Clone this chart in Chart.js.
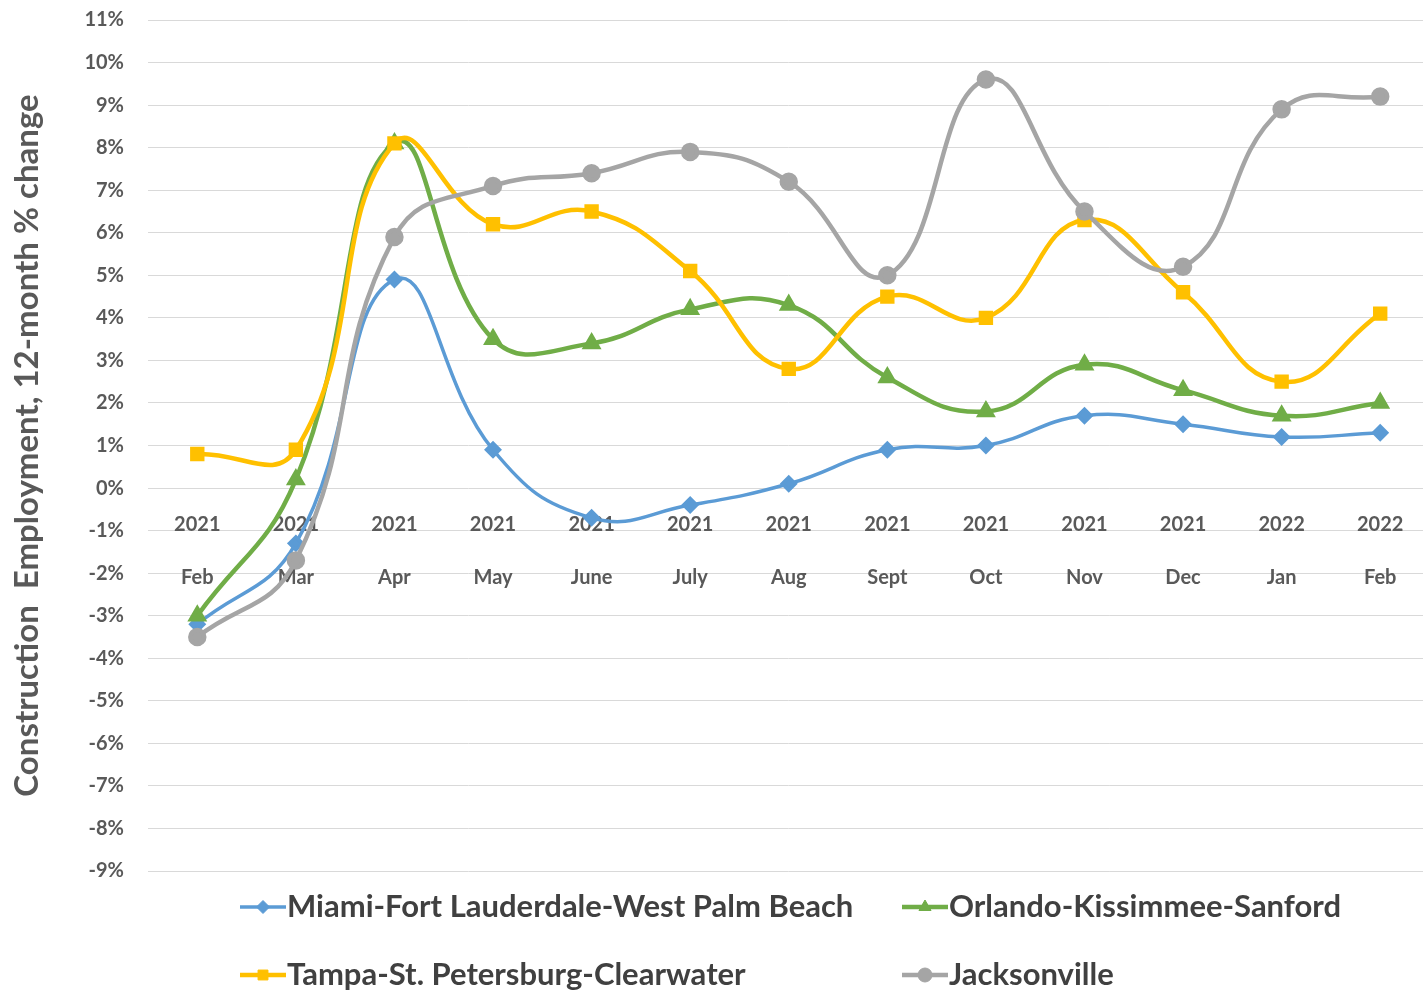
<!DOCTYPE html>
<html>
<head>
<meta charset="utf-8">
<script src="https://cdn.jsdelivr.net/npm/chart.js@4.4.1/dist/chart.umd.min.js"></script>
<style>
    html, body { margin: 0; padding: 0; background: #fff; overflow: hidden; }
    #wrap { width: 1441px; height: 992px; position: relative; }
</style>
</head>
<body>
<div id="wrap"><canvas id="chart"></canvas></div>
<script>
// tick labels (year / month)
const months = [
    ['2021', 'Feb'], ['2021', 'Mar'], ['2021', 'Apr'], ['2021', 'May'], ['2021', 'June'],
    ['2021', 'July'], ['2021', 'Aug'], ['2021', 'Sept'], ['2021', 'Oct'], ['2021', 'Nov'],
    ['2021', 'Dec'], ['2022', 'Jan'], ['2022', 'Feb']
];

// 12-month % change in construction employment
const miami = [-3.2, -1.3, 4.9, 0.9, -0.7, -0.4, 0.1, 0.9, 1.0, 1.7, 1.5, 1.2, 1.3];
const orlando = [-3.0, 0.2, 8.1, 3.5, 3.4, 4.2, 4.3, 2.6, 1.8, 2.9, 2.3, 1.7, 2.0];
const tampa = [0.8, 0.9, 8.1, 6.2, 6.5, 5.1, 2.8, 4.5, 4.0, 6.3, 4.6, 2.5, 4.1];
const jacksonville = [-3.5, -1.7, 5.9, 7.1, 7.4, 7.9, 7.2, 5.0, 9.6, 6.5, 5.2, 8.9, 9.2];

const seriesNames = [
    'Miami-Fort Lauderdale-West Palm Beach',
    'Orlando-Kissimmee-Sanford',
    'Tampa-St. Petersburg-Clearwater',
    'Jacksonville'
];

const FONT = 'Lato, "Open Sans", sans-serif';

// Excel-like legend: line segment with marker, laid out in two columns
const lineLegend = {
    id: 'lineLegend',
    afterDraw(chart) {
        const ctx = chart.ctx;
        const cols = [240, 902];
        const rows = [907, 975];
        chart.data.datasets.forEach((ds, i) => {
            const x = cols[i % 2];
            const y = rows[Math.floor(i / 2)];
            ctx.save();
            ctx.strokeStyle = ds.borderColor;
            ctx.lineWidth = ds.borderWidth;
            ctx.beginPath();
            ctx.moveTo(x, y);
            ctx.lineTo(x + 46, y);
            ctx.stroke();
            ctx.fillStyle = ds.pointBackgroundColor;
            ctx.strokeStyle = ds.pointBorderColor;
            ctx.lineWidth = 1;
            Chart.helpers.drawPoint(ctx, {
                pointStyle: ds.pointStyle,
                radius: ds.pointRadius,
                borderWidth: 1,
                rotation: 0
            }, x + 23, y);
            ctx.fillStyle = '#404040';
            ctx.font = 'bold 31px ' + FONT;
            ctx.textBaseline = 'middle';
            ctx.textAlign = 'left';
            ctx.fillText(ds.label, x + 47, y);
            ctx.restore();
        });
    }
};

function makeSeries(label, data, color, style, radius, width, order) {
    return {
        label: label,
        data: data,
        borderColor: color,
        backgroundColor: color,
        pointBackgroundColor: color,
        pointBorderColor: color,
        pointStyle: style,
        pointRadius: radius,
        borderWidth: width,
        tension: 0.45,
        fill: false,
        order: order
    };
}

new Chart(document.getElementById('chart'), {
    type: 'line',
    data: {
        labels: months,
        datasets: [
            makeSeries(seriesNames[0], miami, '#5B9BD5', 'rectRot', 6.5, 3.5, 4),
            makeSeries(seriesNames[1], orlando, '#70AD47', 'triangle', 7, 4.5, 3),
            makeSeries(seriesNames[2], tampa, '#FFC000', 'rect', 7, 4.5, 2),
            makeSeries(seriesNames[3], jacksonville, '#A5A5A5', 'circle', 7, 4.5, 1)
        ]
    },
    options: {
        responsive: true,
        maintainAspectRatio: false,
        animation: false,
        layout: {
            padding: { left: 8, top: 20, right: 1, bottom: 121 }
        },
        plugins: {
            legend: { display: false },
            tooltip: { enabled: false }
        },
        scales: {
            x: {
                type: 'category',
                position: { y: 0 },
                offset: true,
                grid: { display: false, drawTicks: false },
                border: { display: false },
                ticks: {
                    color: '#595959',
                    font: { family: FONT, size: 20, weight: 'bold', lineHeight: 2.65 },
                    padding: 10,
                    maxRotation: 0,
                    autoSkip: false
                }
            },
            y: {
                min: -9,
                max: 11,
                afterFit(scale) { scale.width = 140; },
                grid: { color: '#D9D9D9', lineWidth: 1, drawTicks: true, tickLength: 24, tickColor: 'rgba(0,0,0,0)' },
                border: { display: false },
                ticks: {
                    stepSize: 1,
                    color: '#595959',
                    padding: 0,
                    font: { family: FONT, size: 20, weight: 'bold' },
                    callback: v => v + '%'
                },
                title: {
                    display: true,
                    text: 'Construction  Employment, 12-month % change',
                    color: '#595959',
                    font: { family: FONT, size: 33, weight: 'bold' },
                    padding: { top: 0, bottom: 0 }
                }
            }
        }
    },
    plugins: [lineLegend]
});
</script>
</body>
</html>
